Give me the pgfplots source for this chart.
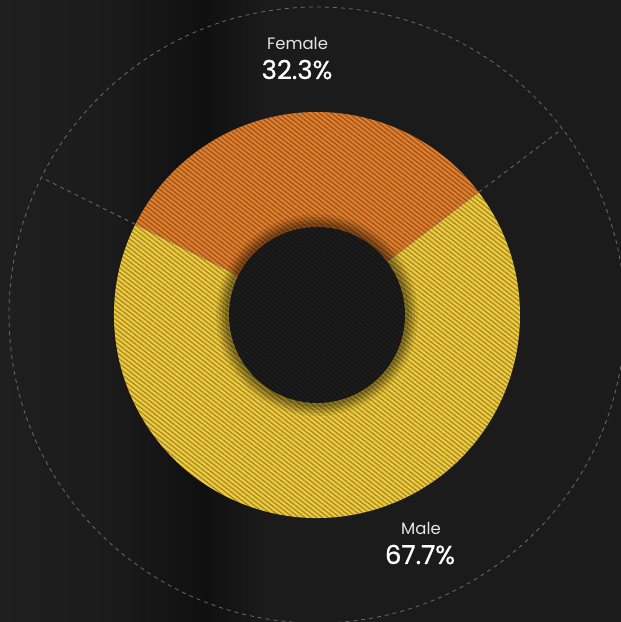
\documentclass[border=0pt]{standalone}
\usepackage{pgfplots}
\pgfplotsset{compat=1.18}
\usepackage{pgfplotstable}
\usetikzlibrary{patterns.meta}
\usepackage{fontspec}
\setmainfont{Poppins}
\newfontfamily\valuefont{Poppins}[FakeBold=0.7]

\definecolor{bgA}{HTML}{1F1F1F}
\definecolor{bgB}{HTML}{1B1B1B}
\definecolor{bgC}{HTML}{101010}
\definecolor{bgD}{HTML}{1B1B1B}
\definecolor{female}{HTML}{E27E2C}
\definecolor{male}{HTML}{F0CB3D}
\definecolor{hole}{HTML}{161616}
\definecolor{guide}{HTML}{6A6A6A}
\definecolor{labelgrey}{HTML}{E4E4E4}

% background: slightly lighter at the left, a soft dark band, then flat
\pgfdeclarehorizontalshading{bgshade}{100bp}{%
  color(0bp)=(bgA); color(25bp)=(bgA); color(34bp)=(bgB);
  color(41.5bp)=(bgC); color(46.5bp)=(bgD); color(100bp)=(bgD)}

% share of respondents by gender (percent)
\pgfplotstableread{
label  value
Female 32.3
Male   67.7
}\sharetable

\begin{document}
\begin{tikzpicture}
\pgfplotstablegetelem{0}{value}\of\sharetable \let\vF\pgfplotsretval
\pgfplotstablegetelem{1}{value}\of\sharetable \let\vM\pgfplotsretval
\pgfmathsetmacro\aS{37.2}
\pgfmathsetmacro\aF{\aS+3.6*\vF}
\pgfmathsetmacro\aM{\aF+3.6*\vM}

\useasboundingbox (0,0) rectangle (621pt,622pt);
\shade[shading=bgshade] (0,0) rectangle (621pt,622pt);
\clip (0,0) rectangle (621pt,622pt);

\begin{axis}[
  hide axis, x=1pt, y=1pt,
  xmin=-317, xmax=304, ymin=-307, ymax=315,
  at={(0,0)}, anchor=south west, clip=false,
]
% guide circle and spokes
\draw[guide, line width=0.8pt, dash pattern=on 4pt off 4pt]
  (axis cs:0,0) circle[radius=308pt];
\draw[guide, line width=0.8pt, dash pattern=on 4pt off 4pt]
  (axis cs:0,0) ++(\aS:203pt) -- ++(\aS:105pt);
\draw[guide, line width=0.8pt, dash pattern=on 4pt off 4pt]
  (axis cs:0,0) ++(\aF:203pt) -- ++(\aF:105pt);

% wedges
\fill[female] (axis cs:0,0) -- ++(\aS:203pt)
  arc[start angle=\aS, end angle=\aF, radius=203pt] -- cycle;
\fill[male] (axis cs:0,0) -- ++(\aF:203pt)
  arc[start angle=\aF, end angle=\aM, radius=203pt] -- cycle;
% hatching over both wedges
\fill[pattern={Lines[angle=-38, distance=3.6pt, line width=1.3pt]},
      pattern color=black, opacity=0.30]
  (axis cs:0,0) circle[radius=203pt];
% slice borders
\draw[black!55, line width=0.5pt, dash pattern=on 2pt off 2pt]
  (axis cs:0,0) -- ++(\aS:203pt);
\draw[black!55, line width=0.5pt, dash pattern=on 2pt off 2pt]
  (axis cs:0,0) -- ++(\aF:203pt);

% soft shadow round the hole
\fill[black, opacity=0.08] (axis cs:0,0) circle[radius=101pt];
\fill[black, opacity=0.12] (axis cs:0,0) circle[radius=98pt];
\fill[black, opacity=0.14] (axis cs:0,0) circle[radius=95pt];
\fill[black, opacity=0.14] (axis cs:0,0) circle[radius=92pt];
% hole
\fill[hole] (axis cs:0,0) circle[radius=88pt];
\fill[pattern={Lines[angle=-38, distance=3.6pt, line width=1.2pt]},
      pattern color=white, opacity=0.035]
  (axis cs:0,0) circle[radius=88pt];

% labels
\node[anchor=base, text=labelgrey, font=\fontsize{16.5}{19}\selectfont]
  at (axis cs:-19.5,265) {Female};
\node[anchor=base, text=white, font=\valuefont\fontsize{26}{30}\selectfont]
  at (axis cs:-20,236) {\vF\%};
\node[anchor=base, text=labelgrey, font=\fontsize{16.5}{19}\selectfont]
  at (axis cs:104,-220) {Male};
\node[anchor=base, text=white, font=\valuefont\fontsize{26}{30}\selectfont]
  at (axis cs:103,-249) {\vM\%};
\end{axis}
\end{tikzpicture}
\end{document}
